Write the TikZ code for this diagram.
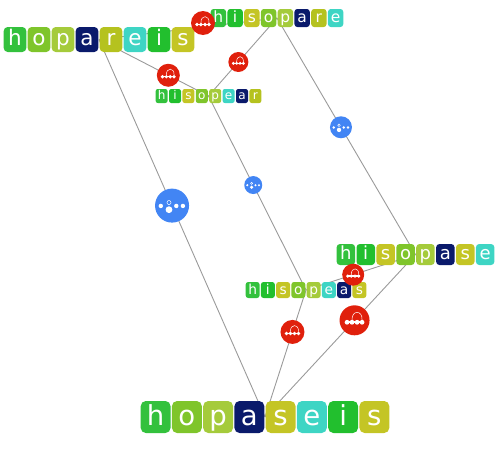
\documentclass[tikz,border=0pt]{standalone}
\usepackage{fontspec}
\setmainfont{DejaVu Sans}
\usetikzlibrary{calc, backgrounds}
% letter colours
\definecolor{lh}{HTML}{33C13D}
\definecolor{li}{HTML}{22BF2E}
\definecolor{lo}{HTML}{7FC52B}
\definecolor{lp}{HTML}{A5CB3B}
\definecolor{la}{HTML}{0A1A6B}
\definecolor{lr}{HTML}{B5C21F}
\definecolor{le}{HTML}{3ED5C4}
\definecolor{ls}{HTML}{C4C525}
\definecolor{edgegray}{HTML}{9A9A9A}
\definecolor{opred}{HTML}{E0200C}
\definecolor{opblue}{HTML}{4285F4}
\tikzset{
  letbox/.style ={rectangle, inner sep=0pt, text=white, align=center},
  wordnode/.style={rectangle, inner sep=0pt},
  edge/.style   ={draw=edgegray, line width=0.9pt},
  redop/.style  ={circle, fill=opred, inner sep=0pt},
  blueop/.style ={circle, fill=opblue, inner sep=0pt},
}
% word as a row of coloured letter tiles: name, cx, cy, pitch, height, letters
\newcommand{\wordrow}[6]{%
  \pgfmathsetmacro\fs{0.86*#5}%
  \pgfmathsetmacro\rc{0.16*#5}%
  \pgfmathsetmacro\bw{#4-1.4}%
  \pgfmathsetmacro\txh{0.75*#5}%
  \pgfmathsetmacro\txd{0.25*#5}%
  \node[wordnode, minimum width=8*#4, minimum height=#5] (#1) at (#2,#3) {};
  \foreach \ch [count=\k] in {#6} {%
    \pgfmathsetmacro\lx{#2+(\k-4.5)*#4}%
    \node[letbox, fill=l\ch, rounded corners=\rc pt, minimum width=\bw pt,
          text height=\txh pt, text depth=\txd pt,
          font=\fontsize{\fs}{\fs}\selectfont] (#1-\k) at (\lx,#3) {\ch};
  }%
}
% glyph on a red (move) marker
\newcommand{\swapglyph}[2]{%
  \begin{scope}[shift={(#1.center)}, scale=#2]
    \fill[white] (-0.6,0.07) rectangle (0.6,0.19);
    \foreach \dx in {-0.5,-0.17,0.17,0.5} \fill[white] (\dx,0.13) circle (0.16);
    \draw[white, line width=0.5pt] (-0.17,-0.02) .. controls (-0.2,-0.7) and (0.55,-0.7) .. (0.5,-0.02);
  \end{scope}
}
% glyph on a blue (change) marker
\newcommand{\pickglyph}[2]{%
  \begin{scope}[shift={(#1.center)}, scale=#2]
    \foreach \dx in {-0.66,0.25,0.64} \fill[white] (\dx,0.02) circle (0.13);
    \fill[white] (-0.18,0.24) circle (0.2);
    \draw[white, line width=0.5pt] (-0.18,-0.18) circle (0.12);
  \end{scope}
}

\begin{document}
\begin{tikzpicture}[x=1pt, y=-1pt]
  \useasboundingbox (0,0) rectangle (501,450);
  \wordrow{hopareis}{99}{39.5}{24}{25}{h,o,p,a,r,e,i,s}
  \wordrow{hisopare}{277}{18}{16.75}{18}{h,i,s,o,p,a,r,e}
  \wordrow{hisopear}{208.5}{96}{13.4}{14}{h,i,s,o,p,e,a,r}
  \wordrow{hisopase}{415.5}{254.5}{19.9}{21}{h,i,s,o,p,a,s,e}
  \wordrow{hisopeas}{306}{290}{15.25}{16}{h,i,s,o,p,e,a,s}
  \wordrow{hopaseis}{265}{417}{31.25}{32}{h,o,p,a,s,e,i,s}

  \begin{scope}[on background layer]
    \draw[edge] (hopareis.center) -- (hisopare.center);
    \draw[edge] (hopareis.center) -- (hisopear.center);
    \draw[edge] (hisopare.center) -- (hisopear.center);
    \draw[edge] (hopareis.center) -- (hopaseis.center);
    \draw[edge] (hisopear.center) -- (hisopeas.center);
    \draw[edge] (hisopare.center) -- (hisopase.center);
    \draw[edge] (hisopase.center) -- (hisopeas.center);
    \draw[edge] (hisopeas.center) -- (hopaseis.center);
    \draw[edge] (hisopase.center) -- (hopaseis.center);
  \end{scope}

  \node[redop, minimum size=24pt] (op1) at (203,23) {}; \swapglyph{op1}{12}
  \node[redop, minimum size=23pt] (op2) at ($(hopareis.center)!0.633!(hisopear.center)$) {}; \swapglyph{op2}{11.5}
  \node[redop, minimum size=20pt] (op3) at ($(hisopare.center)!0.564!(hisopear.center)$) {}; \swapglyph{op3}{10}
  \node[blueop, minimum size=34pt] (op4) at ($(hopareis.center)!0.44!(hopaseis.center)$) {}; \pickglyph{op4}{17}
  \node[blueop, minimum size=18pt] (op5) at ($(hisopear.center)!0.459!(hisopeas.center)$) {}; \pickglyph{op5}{9}
  \node[blueop, minimum size=22pt] (op6) at ($(hisopare.center)!0.462!(hisopase.center)$) {}; \pickglyph{op6}{11}
  \node[redop, minimum size=22pt] (op7) at ($(hisopase.center)!0.569!(hisopeas.center)$) {}; \swapglyph{op7}{11}
  \node[redop, minimum size=24pt] (op8) at ($(hisopeas.center)!0.33!(hopaseis.center)$) {}; \swapglyph{op8}{12}
  \node[redop, minimum size=30pt] (op9) at ($(hisopase.center)!0.405!(hopaseis.center)$) {}; \swapglyph{op9}{15}
\end{tikzpicture}
\end{document}
